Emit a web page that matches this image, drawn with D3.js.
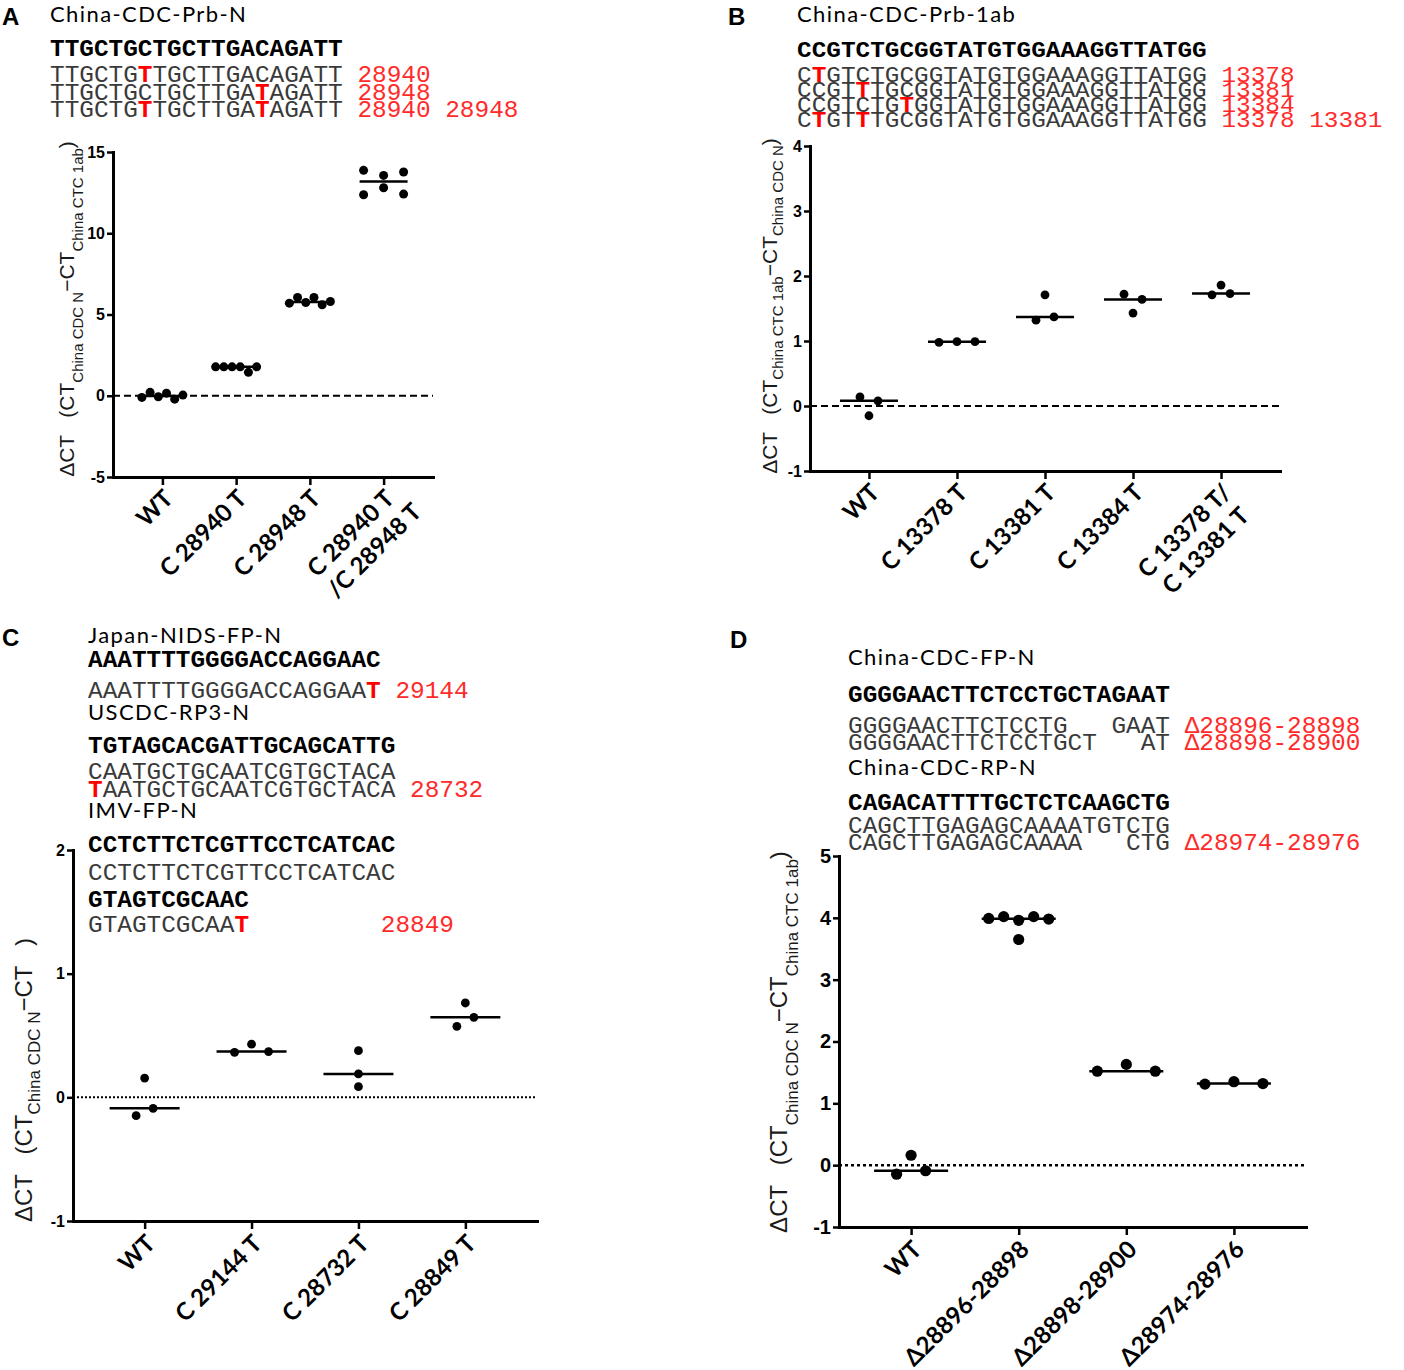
<!DOCTYPE html>
<html>
<head>
<meta charset="utf-8">
<script src="https://cdn.jsdelivr.net/npm/d3@7"></script>
<style>
  body { margin: 0; background: #fff; }
  text { white-space: pre; }
</style>
</head>
<body>
<svg id="fig" width="1404" height="1370"></svg>
<script>
// ---------- data ----------
// panel A
const catsA = ["WT", "C 28940 T", "C 28948 T", "C 28940 T|/C 28948 T"];
const valsA = [
  [-0.10, 0.21, -0.06, 0.16, -0.21, 0.04],
  [1.78, 1.78, 1.78, 1.78, 1.44, 1.78],
  [5.70, 6.05, 5.74, 6.05, 5.60, 5.80],
  [13.87, 12.37, 13.56, 12.80, 13.77, 12.41]
];
const ticksA = [-5, 0, 5, 10, 15];
const ylabA = ["ΔCT   (CT", "_China CDC N", "−CT", "_China CTC 1ab", ")"];
const seqA = [
  "#China-CDC-Prb-N",
  "*TTGCTGCTGCTTGACAGATT",
  "TTGCTG[T]TGCTTGACAGATT {28940}",
  "TTGCTGCTGCTTGA[T]AGATT {28948}",
  "TTGCTG[T]TGCTTGA[T]AGATT {28940 28948}"
];

// panel B
const catsB = ["WT", "C 13378 T", "C 13381 T", "C 13384 T", "C 13378 T/|C 13381 T"];
const valsB = [
  [0.14, -0.15, 0.08],
  [0.98, 0.99, 0.99],
  [1.32, 1.71, 1.37],
  [1.72, 1.43, 1.64],
  [1.86, 1.71, 1.73]
];
const ticksB = [-1, 0, 1, 2, 3, 4];
const ylabB = ["ΔCT   (CT", "_China CTC 1ab", "−CT", "_China CDC N", ")"];
const seqB = [
  "#China-CDC-Prb-1ab",
  "*CCGTCTGCGGTATGTGGAAAGGTTATGG",
  "C[T]GTCTGCGGTATGTGGAAAGGTTATGG {13378}",
  "CCGT[T]TGCGGTATGTGGAAAGGTTATGG {13381}",
  "CCGTCTG[T]GGTATGTGGAAAGGTTATGG {13384}",
  "C[T]GT[T]TGCGGTATGTGGAAAGGTTATGG {13378 13381}"
];

// panel C
const catsC = ["WT", "C 29144 T", "C 28732 T", "C 28849 T"];
const valsC = [
  [0.156, -0.148, -0.089],
  [0.364, 0.43, 0.37],
  [0.377, 0.189, 0.086],
  [0.763, 0.574, 0.647]
];
const ticksC = [-1, 0, 1, 2];
const ylabC = ["ΔCT   (CT", "_China CDC N", "−CT   )"];
const seqC = [
  "#Japan-NIDS-FP-N",
  "*AAATTTTGGGGACCAGGAAC",
  "AAATTTTGGGGACCAGGAA[T] {29144}",
  "#USCDC-RP3-N",
  "*TGTAGCACGATTGCAGCATTG",
  "CAATGCTGCAATCGTGCTACA",
  "[T]AATGCTGCAATCGTGCTACA {28732}",
  "#IMV-FP-N",
  "*CCTCTTCTCGTTCCTCATCAC",
  "CCTCTTCTCGTTCCTCATCAC",
  "*GTAGTCGCAAC",
  "GTAGTCGCAA[T]         {28849}"
];

// panel D
const catsD = ["WT", "Δ28896-28898", "Δ28898-28900", "Δ28974-28976"];
const valsD = [
  [-0.146, 0.16, -0.09],
  [3.99, 4.02, 3.96, 4.02, 3.98, 3.65],
  [1.52, 1.63, 1.52],
  [1.31, 1.35, 1.32]
];
const ticksD = [-1, 0, 1, 2, 3, 4, 5];
const ylabD = ["ΔCT   (CT", "_China CDC N", "−CT", "_China CTC 1ab", ")"];
const seqD = [
  "#China-CDC-FP-N",
  "*GGGGAACTTCTCCTGCTAGAAT",
  "GGGGAACTTCTCCTG   GAAT {Δ28896-28898}",
  "GGGGAACTTCTCCTGCT   AT {Δ28898-28900}",
  "#China-CDC-RP-N",
  "*CAGACATTTTGCTCTCAAGCTG",
  "CAGCTTGAGAGCAAAATGTCTG",
  "CAGCTTGAGAGCAAAA   CTG {Δ28974-28976}"
];

// ---------- drawing ----------
const svg = d3.select("#fig");
const MONO = "'Liberation Mono','Courier New',monospace";
const SANS = "'Liberation Sans',Arial,sans-serif";
const LAB = "Lato,'Open Sans',sans-serif";

function panelLetter(x, y, s) {
  svg.append("text").attr("x", x).attr("y", y).text(s)
    .attr("font-family", SANS).attr("font-weight", "bold").attr("font-size", 24);
}

// one text block: '#' header, '*' bold reference, otherwise mutant row
// sy squashes the mono rows vertically (panel B is printed compressed)
function seqBlock(x, lines, baselines, sy) {
  sy = sy || 1;
  lines.forEach((ln, i) => {
    const holder = svg.append("g");
    const t = holder.append("text").attr("x", x).attr("y", baselines[i])
      .attr("xml:space", "preserve");
    if (ln[0] === "#") {
      t.text(ln.slice(1)).attr("font-family", LAB).attr("font-size", 22)
        .attr("letter-spacing", 1.4).attr("fill", "#000");
      return;
    }
    t.attr("font-family", MONO).attr("font-size", 24.4);
    if (sy !== 1) {
      t.attr("y", 0);
      holder.attr("transform", `translate(0,${baselines[i]}) scale(1,${sy})`);
    }
    if (ln[0] === "*") {
      t.text(ln.slice(1)).attr("font-weight", "bold").attr("fill", "#000");
      return;
    }
    t.attr("fill", "#3a3a3a");
    const re = /\[([^\]]*)\]|\{([^}]*)\}|([^\[{]+)/g;
    let m;
    while ((m = re.exec(ln))) {
      if (m[1] !== undefined)
        t.append("tspan").attr("fill", "#f00").attr("font-weight", "bold").text(m[1]);
      else if (m[2] !== undefined)
        t.append("tspan").attr("fill", "#ff2b2b").text(m[2]);
      else
        t.append("tspan").text(m[3]);
    }
  });
}

function yLabel(x, yc, parts, main, sub, shift) {
  const t = svg.append("text")
    .attr("transform", `translate(${x},${yc}) rotate(-90)`)
    .attr("text-anchor", "middle").attr("font-family", SANS).attr("fill", "#1a1a1a")
    .attr("xml:space", "preserve");
  let low = false;
  parts.forEach(p => {
    const isSub = p[0] === "_";
    const s = t.append("tspan").text(isSub ? p.slice(1) : p)
      .attr("font-size", isSub ? sub : main);
    if (isSub && !low) { s.attr("dy", shift); low = true; }
    else if (!isSub && low) { s.attr("dy", -shift); low = false; }
  });
}

// spread replicate dots that sit at nearly the same height into rows
function layoutDots(vals, y, thr, S, W) {
  const idx = vals.map((v, i) => i).sort((a, b) => vals[b] - vals[a]);
  const rows = [];
  idx.forEach(i => {
    const r = rows[rows.length - 1];
    if (r && Math.abs(y(vals[r[0]]) - y(vals[i])) < thr) r.push(i);
    else rows.push([i]);
  });
  const out = [];
  rows.forEach(r => {
    r.sort((a, b) => a - b);
    const k = r.length;
    const sp = k > 1 ? Math.min(S, W / (k - 1)) : 0;
    r.forEach((i, j) => out.push({ v: vals[i], dx: (j - (k - 1) / 2) * sp }));
  });
  return out;
}

function dotPanel(c) {
  const g = svg.append("g");
  const x = d3.scalePoint().domain(c.cats.map((d, i) => i))
    .range([c.x0, c.x1]).padding(0.67);
  const y = d3.scaleLinear().domain([c.ticks[0], c.ticks[c.ticks.length - 1]])
    .range([c.yb, c.yt]);

  g.append("line").attr("x1", c.x0).attr("x2", c.x1)
    .attr("y1", y(0)).attr("y2", y(0))
    .attr("stroke", "#000").attr("stroke-width", c.zw).attr("stroke-dasharray", c.dash);

  const ya = g.append("g").attr("transform", `translate(${c.x0},0)`)
    .call(d3.axisLeft(y).tickValues(c.ticks).tickSize(6).tickSizeOuter(0)
      .tickPadding(2).tickFormat(d => String(d)));
  const xa = g.append("g").attr("transform", `translate(0,${c.yb})`)
    .call(d3.axisBottom(x).tickSize(8).tickSizeOuter(0).tickFormat(""));
  [ya, xa].forEach(a => {
    a.select(".domain").attr("stroke-width", 3).attr("stroke-linecap", "square");
    a.selectAll(".tick line").attr("stroke-width", 2.5);
  });
  ya.selectAll(".tick text").attr("font-family", SANS).attr("font-weight", "bold")
    .attr("font-size", c.tf).attr("fill", "#000");

  c.vals.forEach((vals, i) => {
    const cx = x(i);
    const med = d3.median(vals);
    g.append("line").attr("x1", cx - c.hw).attr("x2", cx + c.hw)
      .attr("y1", y(med)).attr("y2", y(med))
      .attr("stroke", "#000").attr("stroke-width", 2.5);
    g.selectAll(null).data(layoutDots(vals, y, c.thr, c.S, c.W)).join("circle")
      .attr("cx", d => cx + d.dx).attr("cy", d => y(d.v)).attr("r", c.r)
      .attr("fill", "#000");
  });

  c.cats.forEach((cat, i) => {
    const t = g.append("text")
      .attr("transform", `translate(${x(i) + c.lx},${c.yb + c.ly}) rotate(-45)`)
      .attr("text-anchor", "end").attr("font-family", LAB).attr("font-weight", "bold")
      .attr("font-size", c.lf).attr("fill", "#000");
    cat.split("|").forEach((ln, j) => {
      t.append("tspan").attr("x", j ? c.l2dx : 0).attr("dy", j ? "1.2em" : 0).text(ln);
    });
  });
}

// ---- panel A ----
panelLetter(2, 25, "A");
seqBlock(50, seqA, [22, 56, 82, 100, 117]);
dotPanel({ cats: catsA, vals: valsA, ticks: ticksA, x0: 113, x1: 433, yt: 152, yb: 477,
  r: 4.5, thr: 9, S: 20, W: 41, hw: 24, dash: "7,4", zw: 2.2, tf: 16,
  lx: 12, ly: 23, lf: 24, l2dx: 10 });
yLabel(74, 309, ylabA, 21, 15, 9);

// ---- panel B ----
panelLetter(728, 25, "B");
seqBlock(797, seqB, [22, 57, 81.5, 96.5, 111.5, 126.5], 0.88);
dotPanel({ cats: catsB, vals: valsB, ticks: ticksB, x0: 810, x1: 1280, yt: 146, yb: 471,
  r: 4.4, thr: 8, S: 18, W: 36, hw: 29, dash: "7,4", zw: 2.2, tf: 16,
  lx: 12, ly: 23, lf: 24, l2dx: -4 });
yLabel(777, 306, ylabB, 21, 15, 6);

// ---- panel C ----
panelLetter(2, 646, "C");
seqBlock(88, seqC, [643, 667, 698, 720, 753, 779, 797, 818, 852, 880, 907, 932]);
dotPanel({ cats: catsC, vals: valsC, ticks: ticksC, x0: 73, x1: 537, yt: 850, yb: 1221,
  r: 4.4, thr: 10, S: 17, W: 34, hw: 35, dash: "2,2", zw: 2, tf: 16,
  lx: 12, ly: 24, lf: 24, l2dx: 0 });
yLabel(32, 1080, ylabC, 24, 17, 8);

// ---- panel D ----
panelLetter(730, 648, "D");
seqBlock(848, seqD, [665, 702, 733, 750, 775, 810, 833, 850]);
dotPanel({ cats: catsD, vals: valsD, ticks: ticksD, x0: 839, x1: 1306, yt: 856, yb: 1227,
  r: 5.6, thr: 10, S: 29, W: 60, hw: 37, dash: "3,3", zw: 2.5, tf: 20,
  lx: 12, ly: 24, lf: 24, l2dx: 0 });
yLabel(787, 1042, ylabD, 24, 17, 11);
</script>
</body>
</html>
